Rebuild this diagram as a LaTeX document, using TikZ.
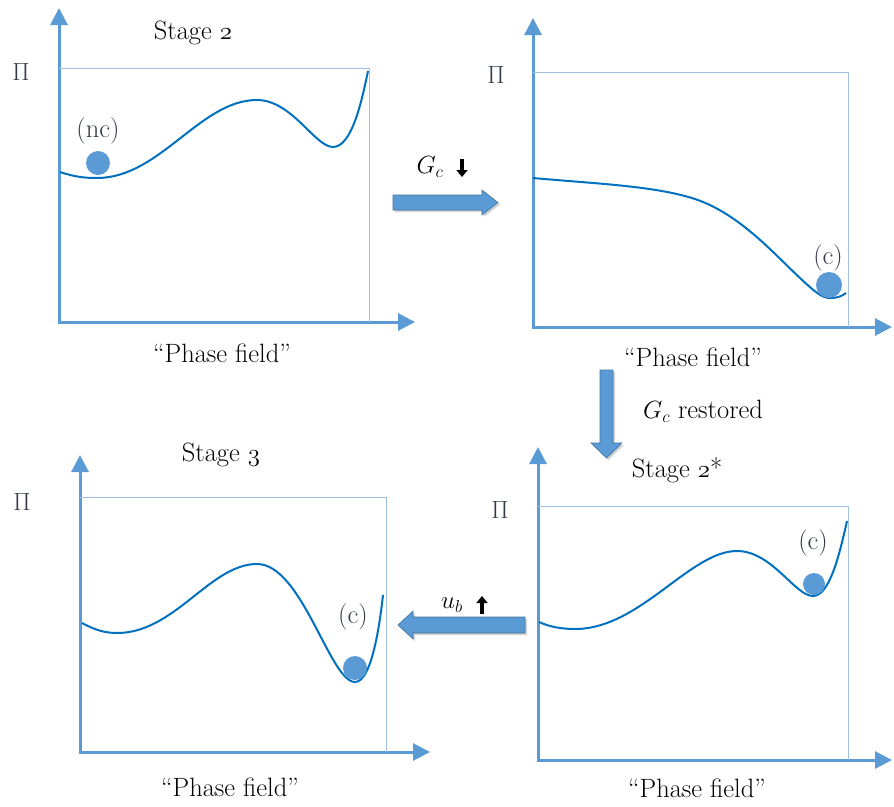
\documentclass[tikz,border=0pt]{standalone}
\usepackage{fontspec}
\usetikzlibrary{arrows.meta,shadows}

\definecolor{axisblue}{RGB}{91,155,213}
\definecolor{frameblue}{RGB}{160,192,226}
\definecolor{curveblue}{RGB}{0,112,192}
\definecolor{labelgray}{RGB}{50,58,70}
\definecolor{arrowedge}{RGB}{65,113,156}

\newcommand{\osnum}[1]{{\usefont{OML}{lmm}{m}{it}#1}}

\begin{document}
\begin{tikzpicture}[x=1pt, y=-1pt,
    axis/.style={axisblue, line width=3pt, line join=miter,
        {Triangle[length=17pt,width=17pt]}-{Triangle[length=17pt,width=17pt]}},
    frame/.style={frameblue, line width=0.8pt},
    curve/.style={curveblue, line width=2pt},
    ball/.style={fill=axisblue},
    lbl/.style={font=\fontsize{26.5}{30}\selectfont},
    note/.style={lbl, text=labelgray},
    bigarrow/.style={fill=axisblue, draw=arrowedge, line width=0.6pt,
        drop shadow={shadow xshift=2pt, shadow yshift=-2pt, opacity=0.35}},
    tick/.style={line width=3.5pt, -{Triangle[length=7pt,width=11pt]}}]

    \useasboundingbox (0,0) rectangle (894,806);

    % 1. 左上：Stage 2
    \draw[axis] (59,8) -- (59,322) -- (415,322);
    \draw[frame] (59,68) -- (369,68) -- (369,322);
    \draw[curve] (60,172) .. controls (75,177) and (85,178) .. (97,178)
        .. controls (160,178) and (200,100) .. (257,100)
        .. controls (292,100) and (315,147) .. (333,147)
        .. controls (352,147) and (362,100) .. (368,71);
    \fill[ball] (98,163) circle (12pt);
    \node[lbl] (stage1) at (193,33) {Stage \osnum{2}};
    \node[note] (pi1) at (21,72) {$\Pi$};
    \node[note] (nc) at (98,131) {(nc)};
    \node[lbl] (pf1) at (222,353) {“Phase field”};

    % 2. 右上：G_c 降低之后
    \draw[axis] (533,18) -- (533,327) -- (892,327);
    \draw[frame] (533,72) -- (848,72) -- (848,327);
    \draw[curve] (533,178) .. controls (600,184) and (655,186) .. (695,199)
        .. controls (740,214) and (775,255) .. (800,278)
        .. controls (815,292) and (822,298) .. (830,298)
        .. controls (838,298) and (842,296) .. (846,293);
    \fill[ball] (829,285) circle (13pt);
    \node[note] (pi2) at (496,75) {$\Pi$};
    \node[note] (c2) at (828,258) {(c)};
    \node[lbl] (pf2) at (693,357) {“Phase field”};

    % 3. 右下：Stage 2*
    \draw[axis] (538,447) -- (538,760) -- (892,760);
    \draw[frame] (538,506) -- (848,506) -- (848,760);
    \draw[curve] (539,622) .. controls (550,627) and (562,629) .. (575,629)
        .. controls (640,629) and (690,551) .. (737,551)
        .. controls (772,551) and (795,596) .. (813,596)
        .. controls (830,596) and (840,552) .. (847,521);
    \fill[ball] (814,584) circle (11pt);
    \node[lbl] (stage2s) at (677,470) {Stage \osnum{2}*};
    \node[note] (pi4) at (500,510) {$\Pi$};
    \node[note] (c4) at (813,543) {(c)};
    \node[lbl] (pf4) at (697,788) {“Phase field”};

    % 4. 左下：Stage 3
    \draw[axis] (80,455) -- (80,752) -- (430,752);
    \draw[frame] (80,497) -- (386,497) -- (386,752);
    \draw[curve] (82,623) .. controls (95,630) and (105,633) .. (117,633)
        .. controls (175,633) and (210,564) .. (257,564)
        .. controls (302,564) and (330,682) .. (355,682)
        .. controls (372,682) and (380,622) .. (383,595);
    \fill[ball] (355,668) circle (12pt);
    \node[lbl] (stage3) at (221,455) {Stage \osnum{3}};
    \node[note] (pi3) at (22,502) {$\Pi$};
    \node[note] (c3) at (353,617) {(c)};
    \node[lbl] (pf3) at (230,787) {“Phase field”};

    % 5. 各阶段之间的箭头
    \draw[bigarrow] (393,195) -- (482,195) -- (482,190) -- (498,202.5)
        -- (482,215) -- (482,210) -- (393,210) -- cycle;
    \node[lbl] (gc1) at (430,167) {$G_c$};
    \draw[tick] (462,159) -- (462,177);

    \draw[bigarrow] (600,370) -- (613,370) -- (613,443) -- (622,443)
        -- (606.5,458) -- (591,443) -- (600,443) -- cycle;
    \node[lbl] (gc2) at (703,411) {$G_c$ restored};

    \draw[bigarrow] (525,617) -- (413,617) -- (413,611) -- (398,625)
        -- (413,639) -- (413,633) -- (525,633) -- cycle;
    \node[lbl] (ub) at (452,605) {$u_b$};
    \draw[tick] (482,614) -- (482,596);

\end{tikzpicture}
\end{document}
